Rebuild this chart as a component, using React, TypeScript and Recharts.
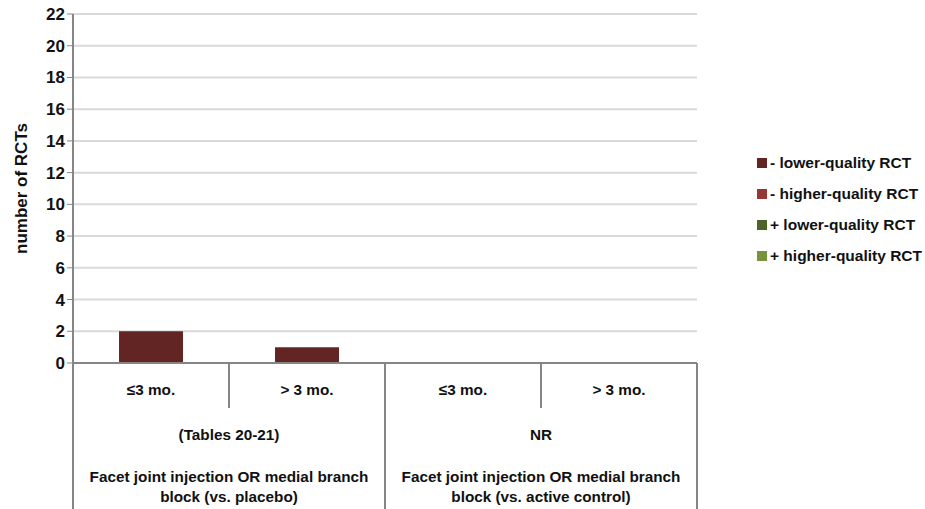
import { BarChart, Bar, XAxis, YAxis, CartesianGrid } from 'recharts'

const periods = ['≤3 mo.', '> 3 mo.', '≤3 mo.', '> 3 mo.']
const groupSources = ['(Tables 20-21)', 'NR']
const groupTitles = [
  ['Facet joint injection OR medial branch', 'block (vs. placebo)'],
  ['Facet joint injection OR medial branch', 'block (vs. active control)'],
]
const negLower = [2, 1, 0, 0]
const negHigher = [0, 0, 0, 0]
const posLower = [0, 0, 0, 0]
const posHigher = [0, 0, 0, 0]
const yTicks = [0, 2, 4, 6, 8, 10, 12, 14, 16, 18, 20, 22]

const series = [
  { key: 'negLower', name: '- lower-quality RCT', color: '#632523' },
  { key: 'negHigher', name: '- higher-quality RCT', color: '#953735' },
  { key: 'posLower', name: '+ lower-quality RCT', color: '#4f6228' },
  { key: 'posHigher', name: '+ higher-quality RCT', color: '#77933c' },
]

const data = periods.map((p, i) => ({
  id: `c${i}`,
  period: p,
  negLower: negLower[i],
  negHigher: negHigher[i],
  posLower: posLower[i],
  posHigher: posHigher[i],
}))

const font = '"Liberation Sans", Arial, sans-serif'
const lineColor = '#868686'

const XTick = (props: any) => {
  const { x, y, payload } = props
  const i = payload.index
  const half = payload.offset || 78
  const bottom = y + 146
  const g = Math.floor(i / 2)
  return (
    <g>
      <text x={x} y={y + 32} textAnchor="middle" fontFamily={font} fontWeight="bold" fontSize={15.3} fill="#111">
        {periods[i]}
      </text>
      {i === 0 && <line x1={x - half} x2={x - half} y1={y} y2={bottom} stroke={lineColor} strokeWidth={2} />}
      <line x1={x + half} x2={x + half} y1={y} y2={i % 2 === 1 ? bottom : y + 45} stroke={lineColor} strokeWidth={2} />
      {i % 2 === 0 && (
        <g fontFamily={font} fontWeight="bold" fontSize={15.3} fill="#111" textAnchor="middle">
          <text x={x + half} y={y + 77}>{groupSources[g]}</text>
          <text x={x + half} y={y + 119}>{groupTitles[g][0]}</text>
          <text x={x + half} y={y + 139}>{groupTitles[g][1]}</text>
        </g>
      )}
    </g>
  )
}

const LegendBox = () => (
  <div style={{ position: 'absolute', left: 757, top: 147, fontFamily: font, fontSize: 15.5, fontWeight: 'bold', color: '#111' }}>
    {series.map(s => (
      <div key={s.key} style={{ display: 'flex', alignItems: 'center', height: 31, whiteSpace: 'nowrap' }}>
        <span style={{ width: 10, height: 10, background: s.color, marginRight: 3, display: 'inline-block' }} />
        {s.name}
      </div>
    ))}
  </div>
)

export default function App() {
  return (
    <div style={{ position: 'absolute', left: 0, top: 0, width: 925, height: 509, background: '#fff', overflow: 'hidden' }}>
      <BarChart width={925} height={509} data={data} margin={{ top: 14, right: 228, left: 0, bottom: 0 }} barCategoryGap="29.5%">
        <CartesianGrid vertical={false} stroke="#d9d9d9" strokeWidth={2} />
        <XAxis
          dataKey="id"
          height={146}
          axisLine={{ stroke: lineColor, strokeWidth: 2 }}
          tickLine={false}
          tickSize={0}
          tickMargin={0}
          interval={0}
          tick={<XTick />}
        />
        <YAxis
          domain={[0, 22]}
          ticks={yTicks}
          width={73}
          interval={0}
          axisLine={{ stroke: lineColor, strokeWidth: 2 }}
          tickLine={{ stroke: lineColor }}
          tickSize={6}
          tick={{ fontFamily: font, fontWeight: 'bold', fontSize: 17, fill: '#111' }}
          label={{ value: 'number of RCTs', angle: -90, position: 'insideLeft', offset: 21, style: { fontFamily: font, fontWeight: 'bold', fontSize: 17, fill: '#111', textAnchor: 'middle' } }}
        />
        {series.map(s => (
          <Bar key={s.key} dataKey={s.key} name={s.name} stackId="a" fill={s.color} isAnimationActive={false} />
        ))}
      </BarChart>
      <LegendBox />
    </div>
  )
}
